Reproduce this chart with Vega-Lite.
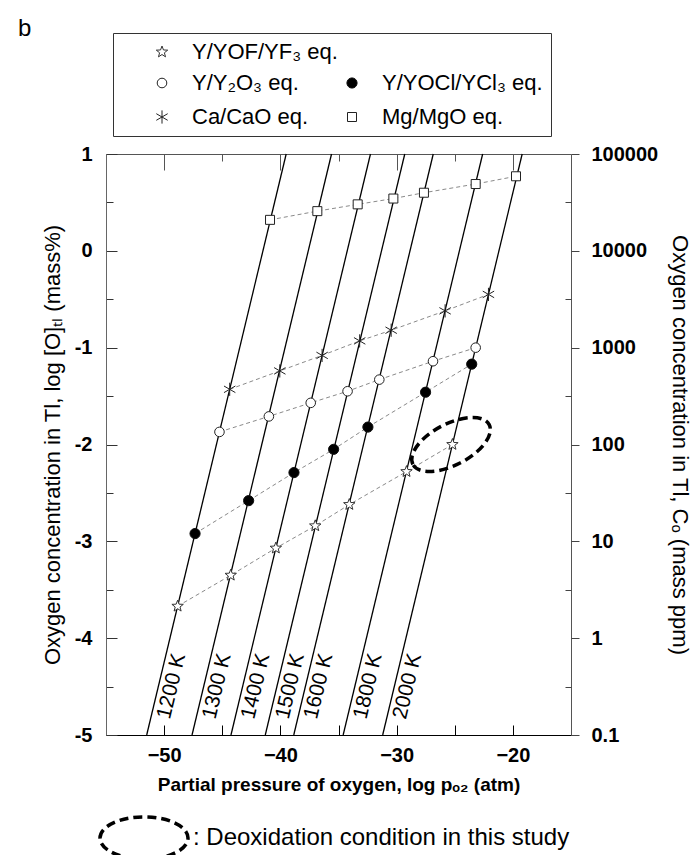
{
  "$schema": "https://vega.github.io/schema/vega-lite/v6.json",
  "width": 465,
  "height": 581,
  "autosize": {"type": "none"},
  "padding": {"left": 106, "top": 154, "right": 126, "bottom": 120},
  "background": "white",
  "config": {
    "font": "Liberation Sans",
    "view": {"stroke": "#555", "strokeWidth": 1},
    "axis": {"grid": false}
  },
  "title": {"text": "b", "anchor": "start", "frame": "group", "dx": -88, "offset": -32, "baseline": "bottom", "fontSize": 24, "fontWeight": "normal", "color": "black"},
  "datasets": {
    "iso": [
      {"T": "1200 K", "x": -51.5, "y": -5}, {"T": "1200 K", "x": -39.5, "y": 1},
      {"T": "1300 K", "x": -47.6, "y": -5}, {"T": "1300 K", "x": -35.6, "y": 1},
      {"T": "1400 K", "x": -44.25, "y": -5}, {"T": "1400 K", "x": -32.25, "y": 1},
      {"T": "1500 K", "x": -41.3, "y": -5}, {"T": "1500 K", "x": -29.3, "y": 1},
      {"T": "1600 K", "x": -38.85, "y": -5}, {"T": "1600 K", "x": -26.85, "y": 1},
      {"T": "1800 K", "x": -34.6, "y": -5}, {"T": "1800 K", "x": -22.6, "y": 1},
      {"T": "2000 K", "x": -31.2, "y": -5}, {"T": "2000 K", "x": -19.2, "y": 1}
    ],
    "lab": [
      {"T": "1200 K", "x": -51.1, "y": -4.8},
      {"T": "1300 K", "x": -47.2, "y": -4.8},
      {"T": "1400 K", "x": -43.85, "y": -4.8},
      {"T": "1500 K", "x": -40.9, "y": -4.8},
      {"T": "1600 K", "x": -38.45, "y": -4.8},
      {"T": "1800 K", "x": -34.2, "y": -4.8},
      {"T": "2000 K", "x": -30.8, "y": -4.8}
    ],
    "pts": [
      {"series": "Y/YOF/YF₃ eq.", "x": -48.84, "y": -3.67},
      {"series": "Y/YOF/YF₃ eq.", "x": -44.27, "y": -3.35},
      {"series": "Y/YOF/YF₃ eq.", "x": -40.39, "y": -3.07},
      {"series": "Y/YOF/YF₃ eq.", "x": -37.0, "y": -2.84},
      {"series": "Y/YOF/YF₃ eq.", "x": -34.07, "y": -2.62},
      {"series": "Y/YOF/YF₃ eq.", "x": -29.15, "y": -2.28},
      {"series": "Y/YOF/YF₃ eq.", "x": -25.2, "y": -2.0},
      {"series": "Y/Y₂O₃ eq.", "x": -45.24, "y": -1.87},
      {"series": "Y/Y₂O₃ eq.", "x": -40.99, "y": -1.71},
      {"series": "Y/Y₂O₃ eq.", "x": -37.39, "y": -1.57},
      {"series": "Y/Y₂O₃ eq.", "x": -34.22, "y": -1.45},
      {"series": "Y/Y₂O₃ eq.", "x": -31.49, "y": -1.33},
      {"series": "Y/Y₂O₃ eq.", "x": -26.87, "y": -1.14},
      {"series": "Y/Y₂O₃ eq.", "x": -23.2, "y": -1.0},
      {"series": "Y/YOCl/YCl₃ eq.", "x": -47.34, "y": -2.92},
      {"series": "Y/YOCl/YCl₃ eq.", "x": -42.73, "y": -2.58},
      {"series": "Y/YOCl/YCl₃ eq.", "x": -38.83, "y": -2.29},
      {"series": "Y/YOCl/YCl₃ eq.", "x": -35.42, "y": -2.05},
      {"series": "Y/YOCl/YCl₃ eq.", "x": -32.47, "y": -1.82},
      {"series": "Y/YOCl/YCl₃ eq.", "x": -27.51, "y": -1.46},
      {"series": "Y/YOCl/YCl₃ eq.", "x": -23.54, "y": -1.17},
      {"series": "Ca/CaO eq.", "x": -44.36, "y": -1.43},
      {"series": "Ca/CaO eq.", "x": -40.05, "y": -1.24},
      {"series": "Ca/CaO eq.", "x": -36.41, "y": -1.08},
      {"series": "Ca/CaO eq.", "x": -33.18, "y": -0.93},
      {"series": "Ca/CaO eq.", "x": -30.47, "y": -0.82},
      {"series": "Ca/CaO eq.", "x": -25.83, "y": -0.62},
      {"series": "Ca/CaO eq.", "x": -22.1, "y": -0.45},
      {"series": "Mg/MgO eq.", "x": -40.89, "y": 0.32},
      {"series": "Mg/MgO eq.", "x": -36.82, "y": 0.41},
      {"series": "Mg/MgO eq.", "x": -33.35, "y": 0.48},
      {"series": "Mg/MgO eq.", "x": -30.28, "y": 0.54},
      {"series": "Mg/MgO eq.", "x": -27.65, "y": 0.6},
      {"series": "Mg/MgO eq.", "x": -23.2, "y": 0.69},
      {"series": "Mg/MgO eq.", "x": -19.73, "y": 0.77}
    ],
    "ell": [
      {"note": "Deoxidation condition in this study", "x": -25.32, "y": -2.0}
    ]
  },
  "resolve": {
    "axis": {"x": "independent", "y": "independent"},
    "scale": {"shape": "independent", "fill": "independent", "stroke": "independent"}
  },
  "layer": [
    {
      "data": {"name": "iso"},
      "mark": {"type": "line", "color": "black", "strokeWidth": 1.3},
      "encoding": {
        "x": {
          "field": "x", "type": "quantitative",
          "scale": {"domain": [-55, -15], "nice": false, "zero": false},
          "axis": {
            "orient": "bottom",
            "values": [-50, -45, -40, -35, -30, -25, -20],
            "labelExpr": "datum.value % 10 == 0 ? datum.label : ''",
            "tickSize": -10, "tickColor": "black", "domainColor": "black",
            "labelFontSize": 20, "labelFontWeight": "bold", "labelColor": "black", "labelPadding": 20,
            "title": "Partial pressure of oxygen, log pₒ₂ (atm)",
            "titleFontSize": 19, "titleFontWeight": "bold", "titleColor": "black", "titlePadding": 10
          }
        },
        "y": {
          "field": "y", "type": "quantitative",
          "scale": {"domain": [-5, 1], "nice": false, "zero": false},
          "axis": {
            "orient": "left",
            "values": [-5, -4.5, -4, -3.5, -3, -2.5, -2, -1.5, -1, -0.5, 0, 0.5, 1],
            "labelExpr": "datum.value % 1 == 0 ? toString(datum.value) : ''",
            "tickSize": {"condition": {"test": "datum.value % 1 == 0", "value": -11}, "value": -7},
            "tickColor": "#333", "domainColor": "#666",
            "labelFontSize": 20, "labelFontWeight": "bold", "labelColor": "black", "labelPadding": 25,
            "title": "Oxygen concentration in Tl, log [O]ₜₗ (mass%)",
            "titleFontSize": 22, "titleFontWeight": "normal", "titleColor": "black", "titlePadding": 10
          }
        },
        "detail": {"field": "T"}
      }
    },
    {
      "data": {"name": "pts"},
      "mark": {"type": "line", "color": "#8a8a8a", "strokeWidth": 1, "strokeDash": [4, 3]},
      "encoding": {
        "x": {"field": "x", "type": "quantitative", "scale": {"domain": [-55, -15], "nice": false, "zero": false}, "axis": null},
        "y": {"field": "y", "type": "quantitative", "scale": {"domain": [-5, 1], "nice": false, "zero": false}, "axis": null},
        "detail": {"field": "series"}
      }
    },
    {
      "data": {"name": "pts"},
      "transform": [{"filter": "datum.series != 'Y/YOF/YF₃ eq.'"}],
      "mark": {"type": "point", "filled": true, "strokeWidth": 1, "size": 144, "opacity": 1},
      "encoding": {
        "x": {"field": "x", "type": "quantitative", "scale": {"domain": [-55, -15], "nice": false, "zero": false}, "axis": null},
        "y": {"field": "y", "type": "quantitative", "scale": {"domain": [-5, 1], "nice": false, "zero": false}, "axis": null},
        "shape": {
          "field": "series", "type": "nominal",
          "scale": {
            "domain": ["Y/Y₂O₃ eq.", "Ca/CaO eq.", "Y/YOCl/YCl₃ eq.", "Mg/MgO eq."],
            "range": [
              "M0.8,0A0.8,0.8,0,1,1,-0.8,0A0.8,0.8,0,1,1,0.8,0Z",
              "M0,-1.1V1.1M-0.95,-0.55L0.95,0.55M-0.95,0.55L0.95,-0.55",
              "M0.85,0A0.85,0.85,0,1,1,-0.85,0A0.85,0.85,0,1,1,0.85,0Z",
              "M-0.75,-0.75H0.75V0.75H-0.75Z"
            ]
          },
          "legend": {
            "orient": "none", "legendX": 7, "legendY": -121,
            "title": " ", "titleFontSize": 22, "titlePadding": 9,
            "columns": 2,
            "values": ["Y/Y₂O₃ eq.", "Ca/CaO eq.", "Y/YOCl/YCl₃ eq.", "Mg/MgO eq."],
            "symbolSize": 144, "symbolStrokeWidth": 1,
            "symbolOffset": 30, "labelOffset": 19,
            "labelFontSize": 22, "labelColor": "black", "labelLimit": 400,
            "columnPadding": 2, "rowPadding": 12,
            "strokeColor": "#333", "padding": 8
          }
        },
        "fill": {
          "field": "series", "type": "nominal",
          "scale": {
            "domain": ["Y/Y₂O₃ eq.", "Ca/CaO eq.", "Y/YOCl/YCl₃ eq.", "Mg/MgO eq."],
            "range": ["white", "transparent", "black", "white"]
          }
        },
        "stroke": {
          "field": "series", "type": "nominal",
          "scale": {
            "domain": ["Y/Y₂O₃ eq.", "Ca/CaO eq.", "Y/YOCl/YCl₃ eq.", "Mg/MgO eq."],
            "range": ["#222", "#222", "#111", "#222"]
          }
        }
      }
    },
    {
      "data": {"name": "pts"},
      "transform": [{"filter": "datum.series == 'Y/YOF/YF₃ eq.'"}],
      "mark": {"type": "point", "filled": true, "strokeWidth": 1, "size": 144, "opacity": 1},
      "encoding": {
        "x": {"field": "x", "type": "quantitative", "scale": {"domain": [-55, -15], "nice": false, "zero": false}, "axis": null},
        "y": {"field": "y", "type": "quantitative", "scale": {"domain": [-5, 1], "nice": false, "zero": false}, "axis": null},
        "shape": {
          "field": "series", "type": "nominal",
          "scale": {
            "domain": ["Y/YOF/YF₃ eq."],
            "range": ["M0,-1L0.247,-0.34L0.951,-0.309L0.399,0.13L0.588,0.809L0,0.42L-0.588,0.809L-0.399,0.13L-0.951,-0.309L-0.247,-0.34Z"]
          },
          "legend": {
            "orient": "none", "legendX": 15, "legendY": -113,
            "title": null, "padding": 0,
            "symbolSize": 144, "symbolStrokeWidth": 1,
            "symbolOffset": 30, "labelOffset": 19,
            "labelFontSize": 22, "labelColor": "black", "labelLimit": 400
          }
        },
        "fill": {
          "field": "series", "type": "nominal",
          "scale": {"domain": ["Y/YOF/YF₃ eq."], "range": ["white"]}
        },
        "stroke": {
          "field": "series", "type": "nominal",
          "scale": {"domain": ["Y/YOF/YF₃ eq."], "range": ["#333"]}
        }
      }
    },
    {
      "data": {"name": "lab"},
      "mark": {"type": "text", "angle": -76.5, "align": "left", "baseline": "top", "fontSize": 21, "dy": 2, "color": "black"},
      "encoding": {
        "x": {
          "field": "x", "type": "quantitative",
          "scale": {"domain": [-55, -15], "nice": false, "zero": false},
          "axis": {
            "orient": "top",
            "values": [-50, -45, -40, -35, -30, -25, -20],
            "labels": false, "domain": false, "title": null,
            "tickSize": {"condition": {"test": "datum.value % 10 == 0", "value": -16}, "value": -7},
            "tickColor": "#555"
          }
        },
        "y": {
          "field": "y", "type": "quantitative",
          "scale": {"domain": [-5, 1], "nice": false, "zero": false},
          "axis": {
            "orient": "right",
            "values": [-5, -4.5, -4, -3.5, -3, -2.5, -2, -1.5, -1, -0.5, 0, 0.5, 1],
            "labelExpr": "datum.value % 1 != 0 ? '' : datum.value == -5 ? '0.1' : format(pow(10, datum.value + 4), 'd')",
            "tickSize": {"condition": {"test": "datum.value % 1 == 0", "value": 8}, "value": -6},
            "tickColor": "#444", "domain": false,
            "labelFontSize": 20, "labelFontWeight": "bold", "labelColor": "black", "labelPadding": 12,
            "title": "Oxygen concentration in Tl, Cₒ (mass ppm)",
            "titleFontSize": 22, "titleFontWeight": "normal", "titleColor": "black", "titlePadding": 10
          }
        },
        "text": {"field": "T"}
      }
    },
    {
      "data": {"name": "ell"},
      "mark": {"type": "point", "filled": false, "stroke": "black", "strokeWidth": 3.5, "strokeDash": [9, 5], "size": 7396, "angle": -27.5, "opacity": 1},
      "encoding": {
        "x": {"field": "x", "type": "quantitative", "scale": {"domain": [-55, -15], "nice": false, "zero": false}, "axis": null},
        "y": {"field": "y", "type": "quantitative", "scale": {"domain": [-5, 1], "nice": false, "zero": false}, "axis": null},
        "shape": {
          "field": "note", "type": "nominal",
          "scale": {"range": ["M-1,0A1,0.48,0,1,1,1,0A1,0.48,0,1,1,-1,0Z"]},
          "legend": {
            "orient": "none", "legendX": -8, "legendY": 638,
            "title": null, "padding": 0,
            "symbolSize": 7744, "symbolStrokeWidth": 3.5, "symbolDash": [9, 5],
            "symbolStrokeColor": "black", "symbolFillColor": "transparent",
            "labelFontSize": 24, "labelFontWeight": "normal", "labelColor": "black", "labelOffset": 3, "labelLimit": 600,
            "labelExpr": "': ' + datum.label",
            "encode": {"symbols": {"shape": {"value": "M-1,0A1,0.4,0,1,1,1,0A1,0.4,0,1,1,-1,0Z"}, "angle": {"value": 0}}}
          }
        }
      }
    }
  ]
}
